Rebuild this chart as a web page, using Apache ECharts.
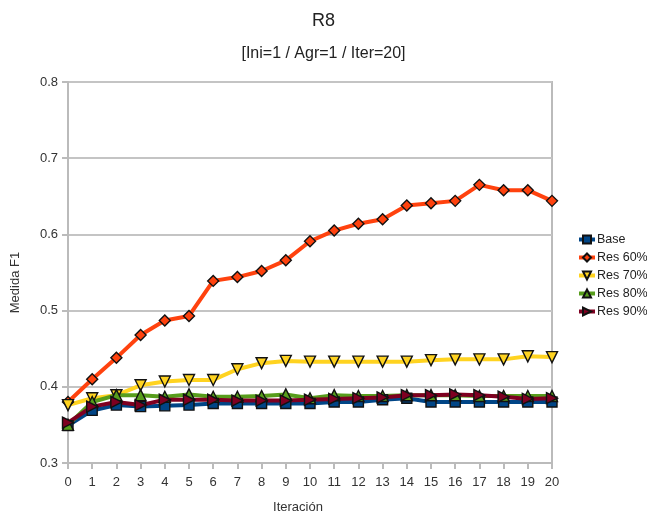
<!DOCTYPE html>
<html>
<head>
<meta charset="utf-8">
<script src="https://cdn.jsdelivr.net/npm/echarts@6/dist/echarts.min.js"></script>
<style>html,body{margin:0;padding:0;background:#fff;}#c{width:647px;height:515px;}</style>
</head>
<body>
<div id="c"></div>
<script>
const iterations = ['0','1','2','3','4','5','6','7','8','9','10','11','12','13','14','15','16','17','18','19','20'];
const base  = [0.349,0.369,0.376,0.374,0.375,0.376,0.378,0.378,0.378,0.378,0.378,0.380,0.380,0.383,0.385,0.380,0.380,0.380,0.380,0.380,0.380];
const res60 = [0.380,0.410,0.438,0.468,0.487,0.493,0.539,0.544,0.552,0.566,0.591,0.605,0.614,0.620,0.638,0.641,0.644,0.665,0.658,0.658,0.644];
const res70 = [0.376,0.385,0.389,0.402,0.407,0.409,0.409,0.423,0.431,0.434,0.433,0.433,0.433,0.433,0.433,0.435,0.436,0.436,0.436,0.440,0.439];
const res80 = [0.350,0.380,0.389,0.389,0.387,0.390,0.387,0.387,0.388,0.390,0.385,0.389,0.388,0.388,0.389,0.389,0.389,0.388,0.388,0.388,0.388];
const res90 = [0.353,0.374,0.380,0.376,0.383,0.383,0.383,0.382,0.382,0.382,0.383,0.384,0.385,0.386,0.389,0.389,0.390,0.389,0.387,0.384,0.385];
const yTicks = [0.3,0.4,0.5,0.6,0.7,0.8];

const font = 'Liberation Sans, Arial, sans-serif';
function mk(name, data, color, symbol, size, rot) {
  return {
    name: name, type: 'line', data: data,
    symbol: symbol, symbolSize: size, symbolRotate: rot || 0,
    lineStyle: {color: color, width: 4},
    itemStyle: {color: color, borderColor: '#111', borderWidth: 1.4},
    emphasis: {disabled: true}, animation: false
  };
}
const chart = echarts.init(document.getElementById('c'), null, {renderer: 'canvas'});
chart.setOption({
  animation: false,
  backgroundColor: '#fff',
  title: [
    {text: 'R8', left: 'center', top: 12, padding: [0,0,0,16], textStyle: {fontFamily: font, fontSize: 18, fontWeight: 'normal', color: '#222'}},
    {text: '[Ini=1 / Agr=1 / Iter=20]', left: 'center', top: 46, padding: [0,0,0,14], textStyle: {fontFamily: font, fontSize: 16, fontWeight: 'normal', color: '#222'}}
  ],
  legend: {
    orient: 'vertical', left: 572, top: 228,
    itemWidth: 16, itemHeight: 10, itemGap: 5,
    lineStyle: {width: 4},
    textStyle: {fontFamily: font, fontSize: 12.5, color: '#222', padding: [0,0,0,-3]},
    data: ['Base','Res 60%','Res 70%','Res 80%','Res 90%']
  },
  grid: {left: 68, right: 95, top: 82, bottom: 52, outerBoundsMode: 'none', containLabel: false, show: true, borderColor: '#bbb', borderWidth: 2, backgroundColor: 'transparent'},
  xAxis: {
    type: 'category', data: iterations, boundaryGap: false,
    name: 'Iteración', nameLocation: 'middle', nameGap: 38,
    nameTextStyle: {fontFamily: font, fontSize: 13, color: '#333', padding: [0,24,0,0]},
    axisLine: {lineStyle: {color: '#bbb', width: 2}},
    axisTick: {show: true, interval: 0, length: 6, lineStyle: {color: '#bbb', width: 2}},
    axisLabel: {interval: 0, margin: 13, fontFamily: font, fontSize: 13, color: '#333'},
    splitLine: {show: false}
  },
  yAxis: {
    type: 'value', min: 0.3, max: 0.8, interval: 0.1,
    name: 'Medida F1', nameLocation: 'middle', nameGap: 46,
    nameTextStyle: {fontFamily: font, fontSize: 13, color: '#333', padding: [0,0,0,-20]},
    axisLine: {show: true, lineStyle: {color: '#bbb', width: 2}},
    axisTick: {show: true, length: 6, lineStyle: {color: '#bbb', width: 2}},
    axisLabel: {margin: 10, fontFamily: font, fontSize: 13, color: '#333', formatter: v => v.toFixed(1)},
    splitLine: {show: true, lineStyle: {color: '#c4c4c4', width: 2}}
  },
  series: [
    mk('Base', base, '#004586', 'rect', 10),
    mk('Res 60%', res60, '#ff420e', 'diamond', 11),
    mk('Res 70%', res70, '#ffd320', 'triangle', 11, 180),
    mk('Res 80%', res80, '#579d1c', 'triangle', 11),
    mk('Res 90%', res90, '#7e0021', 'triangle', 11, -90)
  ]
});
</script>
</body>
</html>
